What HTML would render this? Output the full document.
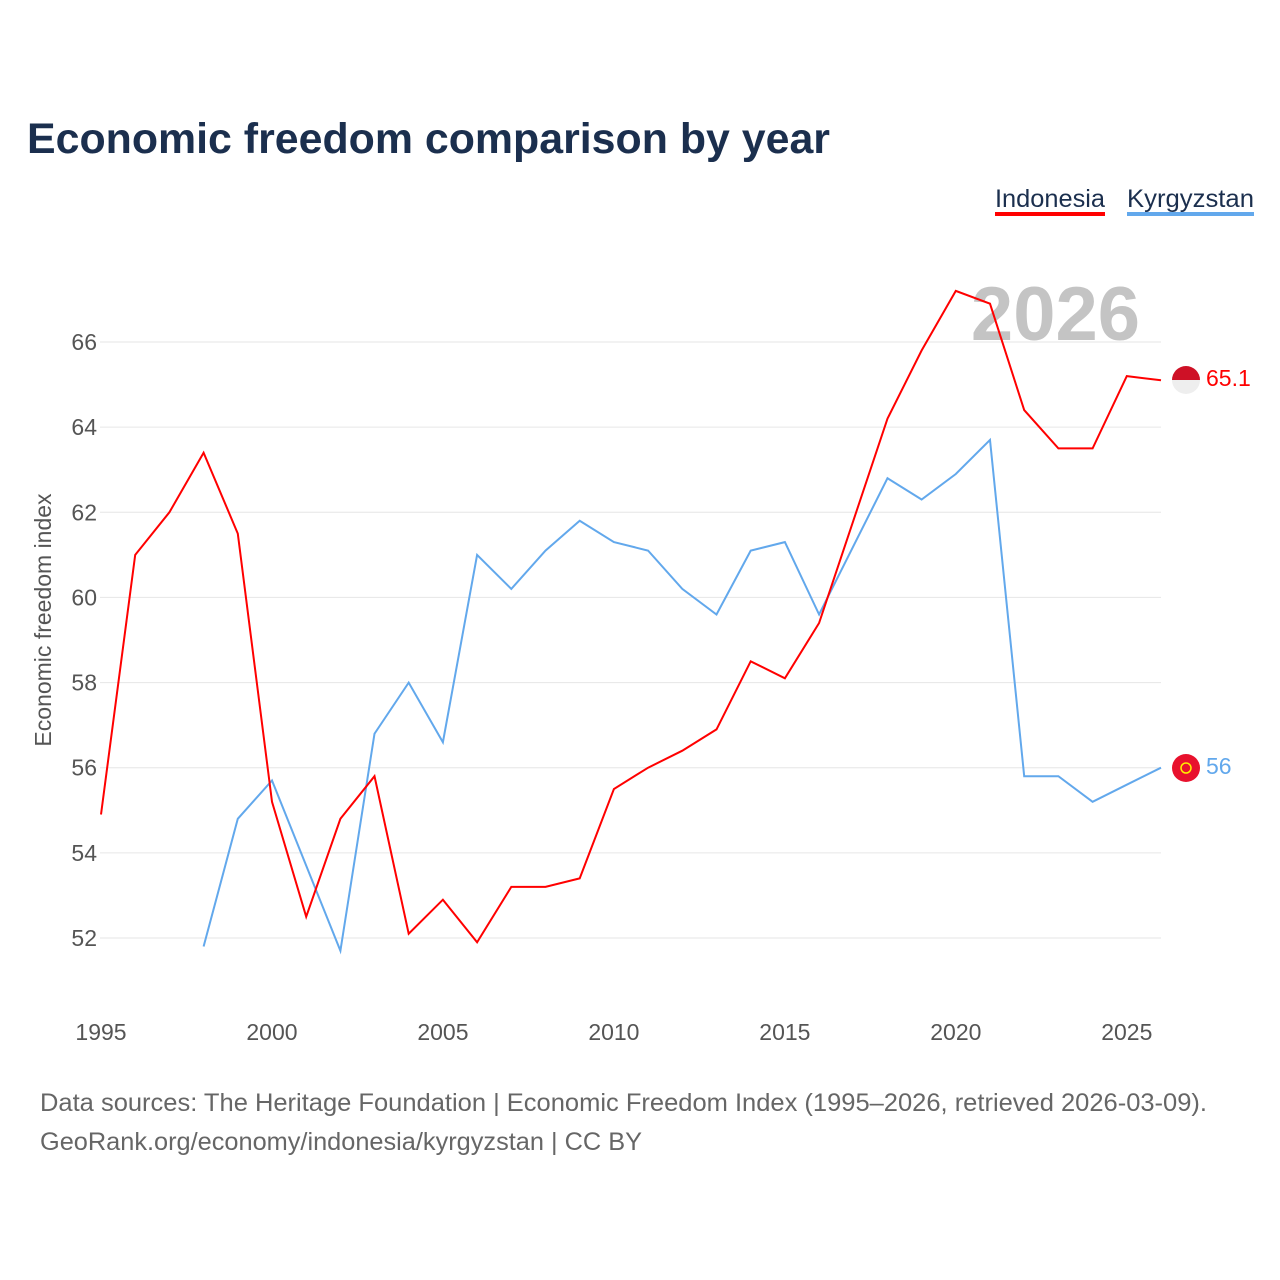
<!DOCTYPE html>
<html><head><meta charset="utf-8">
<style>
body{margin:0;background:#fff;font-family:"Liberation Sans",sans-serif;}
#wrap{position:relative;width:1280px;height:1280px;overflow:hidden;}
</style></head>
<body>
<div id="wrap">
<svg id="chart" width="1280" height="1280" xmlns="http://www.w3.org/2000/svg">
<text x="27" y="153" font-size="43" font-weight="bold" fill="#1b2f4e" textLength="803" lengthAdjust="spacingAndGlyphs">Economic freedom comparison by year</text>
<g>
<text x="995" y="207" font-size="25" fill="#1b2f4e" textLength="110" lengthAdjust="spacingAndGlyphs">Indonesia</text>
<rect x="995" y="212" width="110" height="4" fill="#ff0000"/></g>
<g>
<text x="1127" y="207" font-size="25" fill="#1b2f4e" textLength="127" lengthAdjust="spacingAndGlyphs">Kyrgyzstan</text>
<rect x="1127" y="212" width="127" height="4" fill="#62a8ec"/></g>
<text x="1140" y="340" font-size="76" font-weight="bold" fill="#c4c4c4" text-anchor="end">2026</text>
<g id="grid"></g>
<g id="xaxis"></g>
<text transform="translate(51,620) rotate(-90)" font-size="23" fill="#555" text-anchor="middle">Economic freedom index</text>
<g id="series"></g>
<g>
<clipPath id="c1"><circle cx="1186" cy="380" r="14"/></clipPath>
<rect x="1172" y="366" width="28" height="14" fill="#ce1126" clip-path="url(#c1)"/>
<rect x="1172" y="380" width="28" height="14" fill="#eeeeee" clip-path="url(#c1)"/></g>
<g>
<circle cx="1186" cy="768" r="14" fill="#e8112d"/>
<circle cx="1186" cy="768" r="5" fill="none" stroke="#ffef00" stroke-width="1.5"/></g>
<text x="1206" y="386" font-size="23" fill="#ff0000">65.1</text>
<text x="1206" y="774" font-size="23" fill="#62a8ec">56</text>
<text x="40" y="1111" font-size="25" fill="#666" textLength="1167" lengthAdjust="spacingAndGlyphs">Data sources: The Heritage Foundation | Economic Freedom Index (1995–2026, retrieved 2026-03-09).</text>
<text x="40" y="1150" font-size="25" fill="#666" textLength="602" lengthAdjust="spacingAndGlyphs">GeoRank.org/economy/indonesia/kyrgyzstan | CC BY</text>
</svg>
</div>
<script>
const years=[1995,1996,1997,1998,1999,2000,2001,2002,2003,2004,2005,2006,2007,2008,2009,2010,2011,2012,2013,2014,2015,2016,2017,2018,2019,2020,2021,2022,2023,2024,2025,2026];
const indonesia=[54.9,61.0,62.0,63.4,61.5,55.2,52.5,54.8,55.8,52.1,52.9,51.9,53.2,53.2,53.4,55.5,56.0,56.4,56.9,58.5,58.1,59.4,61.8,64.2,65.8,67.2,66.9,64.4,63.5,63.5,65.2,65.1];
const kyrgyzstan=[null,null,null,51.8,54.8,55.7,53.7,51.7,56.8,58.0,56.6,61.0,60.2,61.1,61.8,61.3,61.1,60.2,59.6,61.1,61.3,59.6,61.2,62.8,62.3,62.9,63.7,55.8,55.8,55.2,55.6,56.0];
const yTicks=[52,54,56,58,60,62,64,66];
const xTicks=[1995,2000,2005,2010,2015,2020,2025];
const NS="http://www.w3.org/2000/svg";
const X=y=>101+(y-1995)*(1161-101)/31;
const Y=v=>342+(66-v)*(938-342)/14;
const grid=document.getElementById('grid');
yTicks.forEach(t=>{
 const l=document.createElementNS(NS,'line');
 
 
 l.setAttribute('x1',100);l.setAttribute('x2',1161);l.setAttribute('y1',Y(t));l.setAttribute('y2',Y(t));
 l.setAttribute('stroke','#e6e6e6');l.setAttribute('stroke-width','1');
 grid.appendChild(l);
 const tx=document.createElementNS(NS,'text');
 
 
 tx.setAttribute('x',97);tx.setAttribute('y',Y(t)+8);tx.setAttribute('text-anchor','end');
 tx.setAttribute('font-size','23');tx.setAttribute('fill','#555');tx.textContent=t;
 grid.appendChild(tx);
});
const xa=document.getElementById('xaxis');
xTicks.forEach(t=>{
 const tx=document.createElementNS(NS,'text');
 
 
 tx.setAttribute('x',X(t));tx.setAttribute('y',1040);tx.setAttribute('text-anchor','middle');
 tx.setAttribute('font-size','23');tx.setAttribute('fill','#555');tx.textContent=t;
 xa.appendChild(tx);
});
function line(vals,color,name){
 let d='';let pen=false;
 vals.forEach((v,i)=>{ if(v==null){pen=false;return;} d+=(pen?'L':'M')+X(years[i]).toFixed(1)+' '+Y(v).toFixed(1)+' '; pen=true;});
 const p=document.createElementNS(NS,'path');
 
 
 p.setAttribute('d',d);p.setAttribute('fill','none');p.setAttribute('stroke',color);p.setAttribute('stroke-width','2');
 document.getElementById('series').appendChild(p);
}
line(kyrgyzstan,'#62a8ec','kyrgyzstan-line');
line(indonesia,'#ff0000','indonesia-line');
</script>
</body></html>
